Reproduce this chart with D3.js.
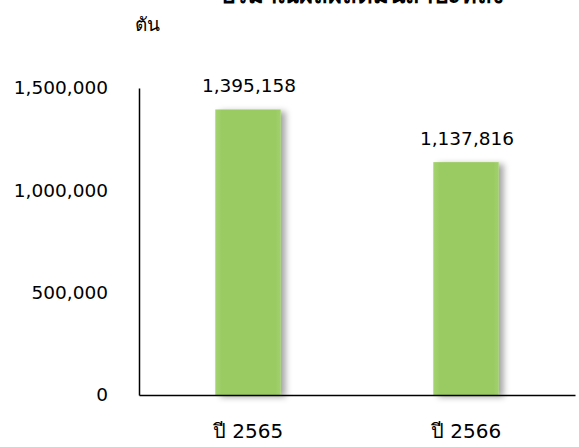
<!DOCTYPE html>
<html>
<head>
<meta charset="utf-8">
<script src="https://cdn.jsdelivr.net/npm/d3@7"></script>
<style>
  body { margin: 0; background: #fff; }
  text { font-family: "DejaVu Sans", Tahoma, sans-serif; fill: #000; }
</style>
</head>
<body>
<svg id="chart" width="579" height="447"></svg>
<script>
// data
const years = ['ปี 2565', 'ปี 2566']
const production = [1395158, 1137816]
const yTicks = [0, 500000, 1000000, 1500000]
const titleText = 'ปริมาณผลผลิตมันสำปะหลัง'
const unitText = 'ตัน'

const svg = d3.select('#chart')
const margin = { left: 139, right: 4, top: 88, bottom: 52 }
const width = 579 - margin.left - margin.right
const height = 447 - margin.top - margin.bottom

const defs = svg.append('defs')
const shadow = defs.append('filter').attr('id', 'shadow')
  .attr('x', '-20%').attr('y', '-10%').attr('width', '160%').attr('height', '130%')
shadow.append('feDropShadow')
  .attr('dx', 5).attr('dy', 2).attr('stdDeviation', 3)
  .attr('flood-color', '#000').attr('flood-opacity', 0.35)

const grad = defs.append('linearGradient').attr('id', 'barFill')
  .attr('x1', '0').attr('x2', '1').attr('y1', '0').attr('y2', '0')
grad.append('stop').attr('offset', '0%').attr('stop-color', '#a4d46f')
grad.append('stop').attr('offset', '10%').attr('stop-color', '#9acb63')
grad.append('stop').attr('offset', '92%').attr('stop-color', '#9acb63')
grad.append('stop').attr('offset', '100%').attr('stop-color', '#a2d16c')

const g = svg.append('g').attr('id', 'graph-g')
  .attr('transform', `translate(${margin.left},${margin.top})`)

const x = d3.scaleBand().domain(years).range([0, width])
  .paddingInner(0.7).paddingOuter(0.35)
const y = d3.scaleLinear().domain([0, 1500000]).range([height, 0])

// bars
g.selectAll('.bar')
  .data(production)
  .join('rect')
  .attr('class', 'bar')
  .attr('x', (d, i) => x(years[i]))
  .attr('y', d => y(d))
  .attr('width', x.bandwidth())
  .attr('height', d => height - y(d))
  .attr('fill', 'url(#barFill)')
  .attr('filter', 'url(#shadow)')

// value labels
g.selectAll('.value')
  .data(production)
  .join('text')
  .attr('class', 'value')
  .attr('x', (d, i) => x(years[i]) + x.bandwidth() / 2 + 1)
  .attr('y', d => y(d) - 17)
  .attr('text-anchor', 'middle')
  .attr('font-size', 18.5)
  .text(d => d3.format(',')(d))

// axes
const yAxis = g.append('g')
  .call(d3.axisLeft(y).tickValues(yTicks).tickFormat(d3.format(',')).tickSize(0).tickPadding(31))
yAxis.select('.domain').attr('stroke', '#000').attr('stroke-width', 1.5)
yAxis.selectAll('text').attr('font-size', 18.5).attr('fill', '#000')

const xAxis = g.append('g').attr('transform', `translate(0,${height})`)
  .call(d3.axisBottom(x).tickSize(0).tickPadding(29))
xAxis.select('.domain').attr('stroke', '#000').attr('stroke-width', 1.5)
xAxis.selectAll('text').attr('font-size', 20).attr('fill', '#000')

// title (clipped at top in the original) and unit
svg.append('text')
  .attr('x', 362).attr('y', 3)
  .attr('text-anchor', 'middle')
  .attr('font-size', 24).attr('font-weight', 'bold')
  .text(titleText)

svg.append('text')
  .attr('x', 147).attr('y', 31)
  .attr('text-anchor', 'middle')
  .attr('font-size', 19)
  .text(unitText)
</script>
</body>
</html>
